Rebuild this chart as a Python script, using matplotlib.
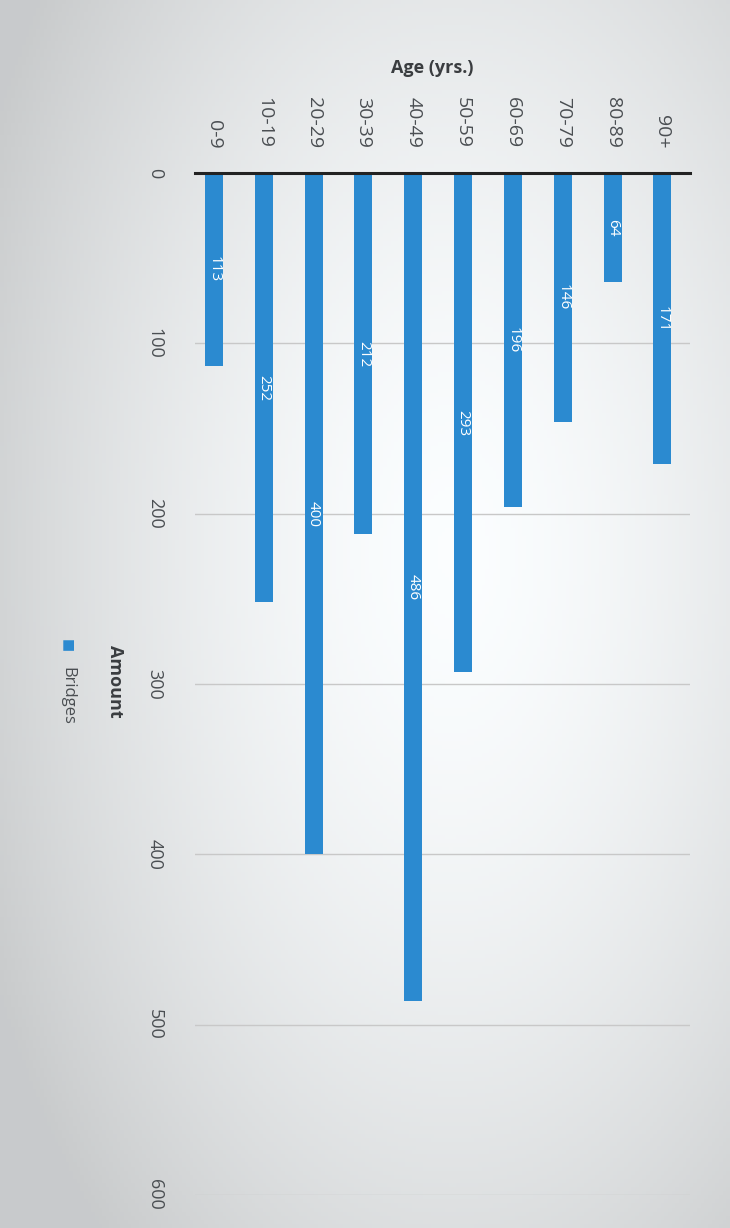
import numpy as np
import matplotlib.pyplot as plt

ages = ["0-9", "10-19", "20-29", "30-39", "40-49", "50-59", "60-69", "70-79", "80-89", "90+"]
bridges = [113, 252, 400, 212, 486, 293, 196, 146, 64, 171]
amount_ticks = [0, 100, 200, 300, 400, 500, 600]

BLUE = "#2b8ad0"
GREY_TXT = "#4a4e52"

plt.rcParams['font.family'] = ['Open Sans', 'DejaVu Sans']

fig = plt.figure(figsize=(7.3, 12.28), dpi=100)

# photo-like background: light centre, greyer edges
bg = fig.add_axes([0, 0, 1, 1], zorder=-1)
yy, xx = np.mgrid[0:1:300j, 0:1:200j]
r = np.sqrt(((xx - 0.62) / 0.75) ** 2 + ((yy - 0.45) / 0.8) ** 2)
shade = np.clip(1.0 - 0.22 * r ** 1.6, 0.8, 1.0)
rgb = np.dstack([shade * 0.985, shade * 0.995, shade])
bg.imshow(rgb, aspect="auto", extent=[0, 1, 0, 1])
bg.axis("off")

ax = fig.add_axes([0.267, 0.027, 0.678, 0.832])
ax.patch.set_alpha(0)

x = np.arange(len(ages))
ax.bar(x, bridges, width=0.36, color=BLUE, zorder=3)
for xi, v in zip(x, bridges):
    ax.text(xi, v / 2, str(v), rotation=270, ha="center", va="center",
            color="white", fontsize=11, zorder=4)

ax.set_ylim(600, 0)
ax.set_xlim(-0.38, 9.55)
ax.set_yticks(amount_ticks)
ax.set_yticklabels([str(t) for t in amount_ticks], rotation=270, va="center",
                   ha="center", fontsize=13, color=GREY_TXT)
ax.tick_params(axis="y", length=0, pad=29)

ax.xaxis.tick_top()
ax.set_xticks(x)
ax.set_xticklabels(ages, rotation=270, fontsize=14, color=GREY_TXT)
ax.tick_params(axis="x", length=0, pad=18)

ax.grid(axis="y", color="#c8c8c8", linewidth=1, zorder=0)
for s in ["left", "right", "bottom"]:
    ax.spines[s].set_visible(False)
ax.spines["top"].set_color("#222222")
ax.spines["top"].set_linewidth(2.2)
ax.spines["top"].set_zorder(5)

fig.text(0.592, 0.945, "Age (yrs.)", ha="center", va="center",
         fontsize=13, fontweight="bold", color="#3a3d40")
fig.text(0.158, 0.445, "Amount", rotation=270, ha="center", va="center",
         fontsize=13, fontweight="bold", color="#3a3d40")
fig.text(0.092, 0.474, "\u25a0", rotation=270, ha="center", va="center",
         fontsize=10, color=BLUE)
fig.text(0.092, 0.433, "Bridges", rotation=270, ha="center", va="center",
         fontsize=12, color=GREY_TXT)

fig.savefig("out.png", dpi=100)
